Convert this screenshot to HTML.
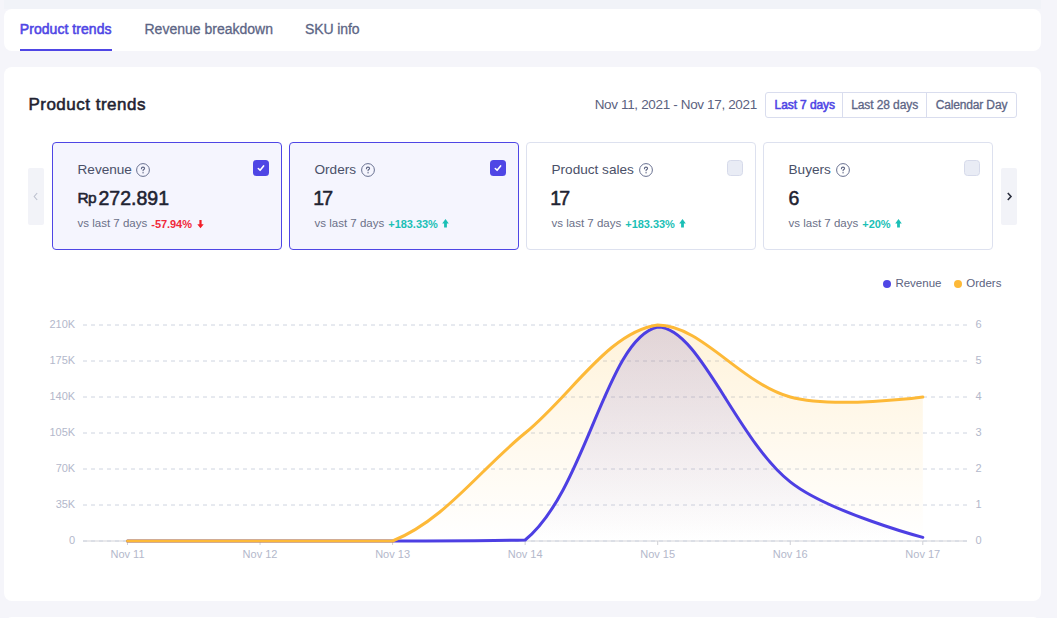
<!DOCTYPE html>
<html><head><meta charset="utf-8">
<style>
*{box-sizing:border-box;margin:0;padding:0}
html,body{width:1057px;height:618px;overflow:hidden;background:#f5f5fa;font-family:"Liberation Sans",sans-serif;position:relative}
.a{position:absolute}
.t{position:absolute;white-space:nowrap}
.topstrip{left:4px;top:0;width:1037px;height:9px;background:#f1f3f8}
.tabcard{left:4px;top:9px;width:1037px;height:42px;background:#fff;border-radius:8px}
.card{left:4px;top:67px;width:1037px;height:534px;background:#fff;border-radius:8px}
.bottomcard{left:4px;top:617px;width:1037px;height:20px;background:#fff;border-radius:8px}
.btns{left:765px;top:92px;width:252px;height:26px;border:1px solid #d9ddee;border-radius:3px;background:#fff}
.sep{position:absolute;top:92px;width:1px;height:26px;background:#d9ddee}
.m{top:142px;width:230px;height:108px;border:1px solid #dde1ef;border-radius:4px;background:#fff}
.m.sel{border-color:#4f46e5;background:#f5f5fe}
.nav{top:168px;width:16px;height:57px;background:#f2f3f8;border-radius:2px}
.dot{position:absolute;top:279.6px;width:8px;height:8px;border-radius:50%}
</style></head><body>
<div class="a topstrip"></div>
<div class="a tabcard"></div>
<div class="t" style="left:19.8px;top:20.65px;font-size:14px;line-height:16.80px;color:#4f46e5;font-weight:400;letter-spacing:0.05px;-webkit-text-stroke:0.55px #4f46e5;">Product trends</div>
<div class="a" style="left:20px;top:49px;width:92px;height:2px;background:#4f46e5"></div>
<div class="t" style="left:144.5px;top:20.95px;font-size:14px;line-height:16.80px;color:#5c6585;font-weight:400;letter-spacing:0px;-webkit-text-stroke:0.3px #5c6585;">Revenue breakdown</div>
<div class="t" style="left:305px;top:20.95px;font-size:14px;line-height:16.80px;color:#5c6585;font-weight:400;letter-spacing:-0.1px;-webkit-text-stroke:0.3px #5c6585;">SKU info</div>
<div class="a card"></div>
<div class="a bottomcard"></div>
<div class="t" style="left:28.4px;top:94.91px;font-size:17px;line-height:20.40px;color:#1f2332;font-weight:400;letter-spacing:0.5px;-webkit-text-stroke:0.55px #1f2332;">Product trends</div>
<div class="t" style="left:594.7px;top:96.52px;font-size:13.5px;line-height:16.20px;color:#5b6280;font-weight:400;letter-spacing:-0.35px;">Nov 11, 2021 - Nov 17, 2021</div>
<div class="a btns"></div>
<div class="sep" style="left:842px"></div>
<div class="sep" style="left:926px"></div>
<div class="t" style="left:774.6px;top:97.84px;font-size:12px;line-height:14.40px;color:#4f46e5;font-weight:400;letter-spacing:-0.1px;-webkit-text-stroke:0.55px #4f46e5;">Last 7 days</div>
<div class="t" style="left:851.2px;top:97.84px;font-size:12px;line-height:14.40px;color:#5c6585;font-weight:400;letter-spacing:-0.1px;-webkit-text-stroke:0.3px #5c6585;">Last 28 days</div>
<div class="t" style="left:935.7px;top:97.84px;font-size:12px;line-height:14.40px;color:#5c6585;font-weight:400;letter-spacing:-0.15px;-webkit-text-stroke:0.3px #5c6585;">Calendar Day</div>
<div class="a nav" style="left:28px"><svg width="16" height="57"><path d="M9.2,25 L6.2,28.5 L9.2,32" fill="none" stroke="#bcc0ce" stroke-width="1.1"/></svg></div>
<div class="a nav" style="left:1001px"><svg width="16" height="57"><path d="M6.8,25 L10,28.5 L6.8,32" fill="none" stroke="#2b2f3e" stroke-width="1.6"/></svg></div>
<div class="a m sel" style="left:52px"></div><div class="t" style="left:77.5px;top:161.53px;font-size:13.6px;line-height:16.32px;color:#4a5068;font-weight:400;letter-spacing:0px;">Revenue</div><svg class="a" style="left:136px;top:163px" width="14" height="14" viewBox="0 0 14 14"><circle cx="7" cy="7" r="6.4" fill="none" stroke="#687090" stroke-width="1"/><path d="M5.4,5.7 C5.4,4.7 6.1,4.1 7,4.1 C7.9,4.1 8.6,4.7 8.6,5.5 C8.6,6.4 7.2,6.6 7.05,7.4 L7.05,7.8" fill="none" stroke="#5f6684" stroke-width="1.1" stroke-linecap="round"/><circle cx="7.05" cy="9.75" r="0.68" fill="#5f6684"/></svg><svg class="a" style="left:253px;top:160px" width="16" height="16" viewBox="0 0 16 16"><rect x="0" y="0" width="16" height="16" rx="3.5" fill="#4f46e5"/><path d="M5.3,8.5 L7.1,10.3 L10.6,5.9" fill="none" stroke="#fff" stroke-width="1.6" stroke-linecap="round" stroke-linejoin="round"/></svg><div class="t" style="left:77.5px;top:189.33px;font-size:15.5px;line-height:18.60px;color:#1f2332;font-weight:400;letter-spacing:-0.6px;-webkit-text-stroke:0.55px #1f2332;">Rp</div><div class="t" style="left:98.5px;top:186.54px;font-size:19.5px;line-height:23.40px;color:#1f2332;font-weight:400;letter-spacing:0px;-webkit-text-stroke:0.55px #1f2332;">272.891</div><div class="t" style="left:77.5px;top:217.22px;font-size:11.5px;line-height:13.80px;color:#6b7088;font-weight:400;letter-spacing:0px;">vs last 7 days</div><div class="t" style="left:151.29999999999998px;top:217.79px;font-size:11px;line-height:13.20px;color:#f0283a;font-weight:700;letter-spacing:-0.05px;">-57.94%</div><svg class="a" style="left:197.2px;top:219.8px" width="7" height="9" viewBox="0 0 7 9"><path d="M2.4,0 L4.6,0 L4.6,4.3 L6.7,4.3 L3.5,8.3 L0.3,4.3 L2.4,4.3 Z" fill="#f21d28"/></svg><div class="a m sel" style="left:289px"></div><div class="t" style="left:314.5px;top:161.53px;font-size:13.6px;line-height:16.32px;color:#4a5068;font-weight:400;letter-spacing:0px;">Orders</div><svg class="a" style="left:361px;top:163px" width="14" height="14" viewBox="0 0 14 14"><circle cx="7" cy="7" r="6.4" fill="none" stroke="#687090" stroke-width="1"/><path d="M5.4,5.7 C5.4,4.7 6.1,4.1 7,4.1 C7.9,4.1 8.6,4.7 8.6,5.5 C8.6,6.4 7.2,6.6 7.05,7.4 L7.05,7.8" fill="none" stroke="#5f6684" stroke-width="1.1" stroke-linecap="round"/><circle cx="7.05" cy="9.75" r="0.68" fill="#5f6684"/></svg><svg class="a" style="left:490px;top:160px" width="16" height="16" viewBox="0 0 16 16"><rect x="0" y="0" width="16" height="16" rx="3.5" fill="#4f46e5"/><path d="M5.3,8.5 L7.1,10.3 L10.6,5.9" fill="none" stroke="#fff" stroke-width="1.6" stroke-linecap="round" stroke-linejoin="round"/></svg><div class="t" style="left:313.3px;top:186.54px;font-size:19.5px;line-height:23.40px;color:#1f2332;font-weight:400;letter-spacing:-1.8px;-webkit-text-stroke:0.55px #1f2332;">17</div><div class="t" style="left:314.5px;top:217.22px;font-size:11.5px;line-height:13.80px;color:#6b7088;font-weight:400;letter-spacing:0px;">vs last 7 days</div><div class="t" style="left:388.3px;top:217.79px;font-size:11px;line-height:13.20px;color:#1bbfb6;font-weight:700;letter-spacing:-0.05px;">+183.33%</div><svg class="a" style="left:441.90000000000003px;top:219.2px" width="7" height="9" viewBox="0 0 7 9"><path d="M3.5,0.1 L6.8,4.5 L4.9,4.5 L4.9,8.6 L2.1,8.6 L2.1,4.5 L0.2,4.5 Z" fill="#1bbfb6"/></svg><div class="a m" style="left:526px"></div><div class="t" style="left:551.5px;top:161.53px;font-size:13.6px;line-height:16.32px;color:#4a5068;font-weight:400;letter-spacing:0px;">Product sales</div><svg class="a" style="left:639px;top:163px" width="14" height="14" viewBox="0 0 14 14"><circle cx="7" cy="7" r="6.4" fill="none" stroke="#687090" stroke-width="1"/><path d="M5.4,5.7 C5.4,4.7 6.1,4.1 7,4.1 C7.9,4.1 8.6,4.7 8.6,5.5 C8.6,6.4 7.2,6.6 7.05,7.4 L7.05,7.8" fill="none" stroke="#5f6684" stroke-width="1.1" stroke-linecap="round"/><circle cx="7.05" cy="9.75" r="0.68" fill="#5f6684"/></svg><svg class="a" style="left:727px;top:160px" width="16" height="16" viewBox="0 0 16 16"><rect x="0.5" y="0.5" width="15" height="15" rx="3" fill="#e9ecf5" stroke="#d6daea"/></svg><div class="t" style="left:550.3px;top:186.54px;font-size:19.5px;line-height:23.40px;color:#1f2332;font-weight:400;letter-spacing:-1.8px;-webkit-text-stroke:0.55px #1f2332;">17</div><div class="t" style="left:551.5px;top:217.22px;font-size:11.5px;line-height:13.80px;color:#6b7088;font-weight:400;letter-spacing:0px;">vs last 7 days</div><div class="t" style="left:625.3000000000001px;top:217.79px;font-size:11px;line-height:13.20px;color:#1bbfb6;font-weight:700;letter-spacing:-0.05px;">+183.33%</div><svg class="a" style="left:678.9px;top:219.2px" width="7" height="9" viewBox="0 0 7 9"><path d="M3.5,0.1 L6.8,4.5 L4.9,4.5 L4.9,8.6 L2.1,8.6 L2.1,4.5 L0.2,4.5 Z" fill="#1bbfb6"/></svg><div class="a m" style="left:763px"></div><div class="t" style="left:788.5px;top:161.53px;font-size:13.6px;line-height:16.32px;color:#4a5068;font-weight:400;letter-spacing:0px;">Buyers</div><svg class="a" style="left:836px;top:163px" width="14" height="14" viewBox="0 0 14 14"><circle cx="7" cy="7" r="6.4" fill="none" stroke="#687090" stroke-width="1"/><path d="M5.4,5.7 C5.4,4.7 6.1,4.1 7,4.1 C7.9,4.1 8.6,4.7 8.6,5.5 C8.6,6.4 7.2,6.6 7.05,7.4 L7.05,7.8" fill="none" stroke="#5f6684" stroke-width="1.1" stroke-linecap="round"/><circle cx="7.05" cy="9.75" r="0.68" fill="#5f6684"/></svg><svg class="a" style="left:964px;top:160px" width="16" height="16" viewBox="0 0 16 16"><rect x="0.5" y="0.5" width="15" height="15" rx="3" fill="#e9ecf5" stroke="#d6daea"/></svg><div class="t" style="left:788.5px;top:186.54px;font-size:19.5px;line-height:23.40px;color:#1f2332;font-weight:400;letter-spacing:0px;-webkit-text-stroke:0.55px #1f2332;">6</div><div class="t" style="left:788.5px;top:217.22px;font-size:11.5px;line-height:13.80px;color:#6b7088;font-weight:400;letter-spacing:0px;">vs last 7 days</div><div class="t" style="left:862.3000000000001px;top:217.79px;font-size:11px;line-height:13.20px;color:#1bbfb6;font-weight:700;letter-spacing:-0.05px;">+20%</div><svg class="a" style="left:895.2px;top:219.2px" width="7" height="9" viewBox="0 0 7 9"><path d="M3.5,0.1 L6.8,4.5 L4.9,4.5 L4.9,8.6 L2.1,8.6 L2.1,4.5 L0.2,4.5 Z" fill="#1bbfb6"/></svg>
<svg class="a" style="left:0;top:0" width="1057" height="618" viewBox="0 0 1057 618">
<defs>
<linearGradient id="go" x1="0" y1="0" x2="0" y2="1"><stop offset="0" stop-color="#ffbb33" stop-opacity="0.18"/><stop offset="1" stop-color="#ffbb33" stop-opacity="0"/></linearGradient>
<linearGradient id="gr" x1="0" y1="0" x2="0" y2="1"><stop offset="0" stop-color="#4f46e5" stop-opacity="0.2"/><stop offset="1" stop-color="#4f46e5" stop-opacity="0"/></linearGradient>
</defs>
<line x1="83" y1="541" x2="967" y2="541" stroke="#d3d3d8" stroke-width="1"/>
<line x1="127.50" y1="541" x2="127.50" y2="545" stroke="#cfd0d6" stroke-width="1"/><line x1="260.05" y1="541" x2="260.05" y2="545" stroke="#cfd0d6" stroke-width="1"/><line x1="392.60" y1="541" x2="392.60" y2="545" stroke="#cfd0d6" stroke-width="1"/><line x1="525.15" y1="541" x2="525.15" y2="545" stroke="#cfd0d6" stroke-width="1"/><line x1="657.70" y1="541" x2="657.70" y2="545" stroke="#cfd0d6" stroke-width="1"/><line x1="790.25" y1="541" x2="790.25" y2="545" stroke="#cfd0d6" stroke-width="1"/><line x1="922.80" y1="541" x2="922.80" y2="545" stroke="#cfd0d6" stroke-width="1"/>
<line x1="83" y1="325" x2="967" y2="325" stroke="#ced4e0" stroke-width="1" stroke-dasharray="4 4"/><line x1="83" y1="361" x2="967" y2="361" stroke="#ced4e0" stroke-width="1" stroke-dasharray="4 4"/><line x1="83" y1="397" x2="967" y2="397" stroke="#ced4e0" stroke-width="1" stroke-dasharray="4 4"/><line x1="83" y1="433" x2="967" y2="433" stroke="#ced4e0" stroke-width="1" stroke-dasharray="4 4"/><line x1="83" y1="469" x2="967" y2="469" stroke="#ced4e0" stroke-width="1" stroke-dasharray="4 4"/><line x1="83" y1="505" x2="967" y2="505" stroke="#ced4e0" stroke-width="1" stroke-dasharray="4 4"/><line x1="83" y1="541" x2="967" y2="541" stroke="#ced4e0" stroke-width="1" stroke-dasharray="4 4"/>
<path d="M127.50,541.00 C127.50,541.00 213.66,541.00 260.05,541.00 C306.44,541.00 346.21,541.00 392.60,541.00 C438.99,540.82 493.07,541.00 525.15,539.97 C585.85,490.98 606.51,338.28 657.70,327.06 C699.30,327.06 735.84,438.68 790.25,481.86 C828.62,512.30 922.80,537.40 922.80,537.40 L922.80,541 L127.50,541 Z" fill="url(#gr)"/>
<path d="M127.50,541.00 C127.50,541.00 213.66,541.00 260.05,541.00 C306.44,541.00 352.08,541.00 392.60,541.00 C444.87,519.71 478.76,470.80 525.15,433.00 C571.54,395.20 608.40,331.69 657.70,325.00 C701.19,325.00 740.86,383.59 790.25,397.00 C833.65,408.79 922.80,397.00 922.80,397.00 L922.80,541 L127.50,541 Z" fill="url(#go)"/>
<path d="M127.50,541.00 C127.50,541.00 213.66,541.00 260.05,541.00 C306.44,541.00 346.21,541.00 392.60,541.00 C438.99,540.82 493.07,541.00 525.15,539.97 C585.85,490.98 606.51,338.28 657.70,327.06 C699.30,327.06 735.84,438.68 790.25,481.86 C828.62,512.30 922.80,537.40 922.80,537.40" fill="none" stroke="#4d3fe3" stroke-width="3" stroke-linejoin="round" stroke-linecap="round"/>
<path d="M127.50,541.00 C127.50,541.00 213.66,541.00 260.05,541.00 C306.44,541.00 352.08,541.00 392.60,541.00 C444.87,519.71 478.76,470.80 525.15,433.00 C571.54,395.20 608.40,331.69 657.70,325.00 C701.19,325.00 740.86,383.59 790.25,397.00 C833.65,408.79 922.80,397.00 922.80,397.00" fill="none" stroke="#fdb938" stroke-width="3" stroke-linejoin="round" stroke-linecap="round"/>
</svg>
<div class="t" style="right:981.8px;top:317.69px;font-size:11px;line-height:13.20px;color:#b3b8cb;font-weight:400;letter-spacing:0px;text-align:right">210K</div><div class="t" style="left:975.5px;top:317.69px;font-size:11px;line-height:13.20px;color:#b3b8cb;font-weight:400;letter-spacing:0px;">6</div><div class="t" style="right:981.8px;top:353.69px;font-size:11px;line-height:13.20px;color:#b3b8cb;font-weight:400;letter-spacing:0px;text-align:right">175K</div><div class="t" style="left:975.5px;top:353.69px;font-size:11px;line-height:13.20px;color:#b3b8cb;font-weight:400;letter-spacing:0px;">5</div><div class="t" style="right:981.8px;top:389.69px;font-size:11px;line-height:13.20px;color:#b3b8cb;font-weight:400;letter-spacing:0px;text-align:right">140K</div><div class="t" style="left:975.5px;top:389.69px;font-size:11px;line-height:13.20px;color:#b3b8cb;font-weight:400;letter-spacing:0px;">4</div><div class="t" style="right:981.8px;top:425.69px;font-size:11px;line-height:13.20px;color:#b3b8cb;font-weight:400;letter-spacing:0px;text-align:right">105K</div><div class="t" style="left:975.5px;top:425.69px;font-size:11px;line-height:13.20px;color:#b3b8cb;font-weight:400;letter-spacing:0px;">3</div><div class="t" style="right:981.8px;top:461.69px;font-size:11px;line-height:13.20px;color:#b3b8cb;font-weight:400;letter-spacing:0px;text-align:right">70K</div><div class="t" style="left:975.5px;top:461.69px;font-size:11px;line-height:13.20px;color:#b3b8cb;font-weight:400;letter-spacing:0px;">2</div><div class="t" style="right:981.8px;top:497.69px;font-size:11px;line-height:13.20px;color:#b3b8cb;font-weight:400;letter-spacing:0px;text-align:right">35K</div><div class="t" style="left:975.5px;top:497.69px;font-size:11px;line-height:13.20px;color:#b3b8cb;font-weight:400;letter-spacing:0px;">1</div><div class="t" style="right:981.8px;top:533.69px;font-size:11px;line-height:13.20px;color:#b3b8cb;font-weight:400;letter-spacing:0px;text-align:right">0</div><div class="t" style="left:975.5px;top:533.69px;font-size:11px;line-height:13.20px;color:#b3b8cb;font-weight:400;letter-spacing:0px;">0</div><div class="t" style="left:87.50px;width:80px;text-align:center;top:547.59px;font-size:11px;line-height:13.2px;color:#b3b8cb">Nov 11</div><div class="t" style="left:220.05px;width:80px;text-align:center;top:547.59px;font-size:11px;line-height:13.2px;color:#b3b8cb">Nov 12</div><div class="t" style="left:352.60px;width:80px;text-align:center;top:547.59px;font-size:11px;line-height:13.2px;color:#b3b8cb">Nov 13</div><div class="t" style="left:485.15px;width:80px;text-align:center;top:547.59px;font-size:11px;line-height:13.2px;color:#b3b8cb">Nov 14</div><div class="t" style="left:617.70px;width:80px;text-align:center;top:547.59px;font-size:11px;line-height:13.2px;color:#b3b8cb">Nov 15</div><div class="t" style="left:750.25px;width:80px;text-align:center;top:547.59px;font-size:11px;line-height:13.2px;color:#b3b8cb">Nov 16</div><div class="t" style="left:882.80px;width:80px;text-align:center;top:547.59px;font-size:11px;line-height:13.2px;color:#b3b8cb">Nov 17</div>
<div class="dot" style="left:882.8px;background:#4f46e5"></div>
<div class="t" style="left:895.4px;top:277.12px;font-size:11.5px;line-height:13.80px;color:#5b6280;font-weight:400;letter-spacing:0px;">Revenue</div>
<div class="dot" style="left:953.7px;background:#fdb938"></div>
<div class="t" style="left:966.3px;top:277.12px;font-size:11.5px;line-height:13.80px;color:#5b6280;font-weight:400;letter-spacing:0px;">Orders</div>
</body></html>
